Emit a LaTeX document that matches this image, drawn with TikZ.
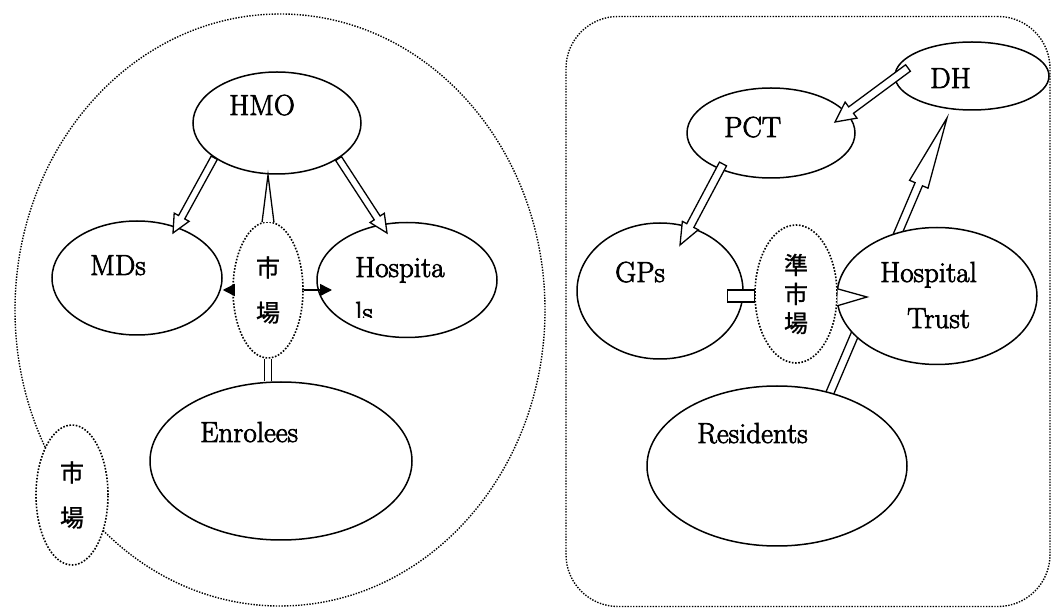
\documentclass[tikz,border=0pt]{standalone}
\usepackage{fontspec}
\newfontfamily\cjk{Noto Sans CJK JP}[FakeBold=1]
\newfontfamily\namefont{Latin Modern Roman}[FakeBold=2.5]
\usetikzlibrary{shapes.geometric,arrows.meta,calc}

% Hollow block arrow: #1 start, #2 tip, #3 shaft half width, #4 head length, #5 head half width
\newcommand{\hollowarrow}[5]{%
  \coordinate (ha-b) at ($(#2)!#4!(#1)$);
  \draw[hollow]
    ($(#1)!#3!90:(#2)$) -- ($(ha-b)!#3!90:(#2)$) -- ($(ha-b)!#5!90:(#2)$) -- (#2)
    -- ($(ha-b)!#5!-90:(#2)$) -- ($(ha-b)!#3!-90:(#2)$) -- ($(#1)!#3!-90:(#2)$) -- cycle;
}

\tikzset{
  actor/.style={ellipse, draw, line width=1.5pt, fill=white, inner sep=0pt},
  mkt/.style={ellipse, draw, line width=1.6pt, dash pattern=on 1.6pt off 1.6pt, fill=white,
    inner sep=0pt, align=center, font=\cjk\fontsize{24}{45}\selectfont},
  realm/.style={draw, line width=1.4pt, dash pattern=on 1.4pt off 1.4pt, inner sep=0pt},
  hollow/.style={draw, fill=white, line width=1.3pt, line join=miter},
  lbl/.style={font=\namefont\fontsize{29}{35}\selectfont, inner sep=0pt, anchor=base west},
  tail/.style={draw, fill=white, line width=1.3pt},
  pointer/.style={line width=1.5pt, -{Triangle[length=12pt,width=12pt]}},
}

\begin{document}
\begin{tikzpicture}[x=1pt,y=-1pt]
\useasboundingbox (0,0) rectangle (1053,609);

% market (left) and quasi-market (right) boundaries
\node[realm, ellipse, minimum width=530pt, minimum height=592pt] (usmkt) at (280,310) {};
\node[realm, rounded corners=52pt, minimum width=484pt, minimum height=590pt] (ukqm) at (808,311.5) {};

% Residents -> DH, passing behind Hospital Trust
\coordinate (res-top) at (829,395);
\coordinate (dh-tip) at (947,118);
\hollowarrow{res-top}{dh-tip}{4pt}{72pt}{10pt}

% actors
\node[actor, minimum width=168pt, minimum height=102pt] (hmo) at (277,123) {};
\node[actor, minimum width=170pt, minimum height=114pt] (mds) at (137,278) {};
\node[actor, minimum width=180pt, minimum height=115pt] (hosp) at (407,280) {};
\node[actor, minimum width=262pt, minimum height=158pt] (enrol) at (281,461) {};
\node[actor, minimum width=154pt, minimum height=68pt] (dh) at (972,76) {};
\node[actor, minimum width=168pt, minimum height=90pt] (pct) at (771,133) {};
\node[actor, minimum width=166pt, minimum height=136pt] (gps) at (660,291) {};
\node[actor, minimum width=200pt, minimum height=137pt] (trust) at (937,296) {};
\node[actor, minimum width=260pt, minimum height=160pt] (resid) at (777,466) {};

% market bubbles
\node[mkt, minimum width=70pt, minimum height=136pt] (mkt1) at (268,290) {市\\場};
\node[mkt, minimum width=82pt, minimum height=138pt, font=\cjk\fontsize{24}{29}\selectfont] (qmkt) at (796,294) {準\\市\\場};
\node[mkt, minimum width=72pt, minimum height=140pt] (mkt2) at (72,495) {市\\場};

% actor names
\node[lbl] (hmo-t) at (229,115) {HMO};
\node[lbl] (mds-t) at (90,275) {MDs};
\node[lbl] (hosp-t) at (355,277) {Hospita};
\begin{scope}
  \clip (340,290) rectangle (420,318);
  \node[lbl] (hosp-t2) at (355,322) {ls};
\end{scope}
\node[lbl] (enrol-t) at (200,442) {Enrolees};
\node[lbl] (dh-t) at (930,88) {DH};
\node[lbl] (pct-t) at (724,137) {PCT};
\node[lbl] (gps-t) at (615,282) {GPs};
\node[lbl] (trust-t1) at (880,282) {Hospital};
\node[lbl] (trust-t2) at (907,328) {Trust};
\node[lbl] (resid-t) at (697,443) {Residents};

% block arrows
\coordinate (mds-tip) at (173,233);
\coordinate (hosp-tip) at (387,233);
\hollowarrow{hmo.209}{mds-tip}{3.5pt}{18pt}{8.5pt}
\hollowarrow{hmo.330}{hosp-tip}{3.5pt}{18pt}{8.5pt}
\coordinate (dh-start) at (908,68);
\coordinate (pct-tip) at (835,122);
\hollowarrow{dh-start}{pct-tip}{4pt}{20pt}{10pt}
\coordinate (pct-start) at (723,164);
\coordinate (gps-tip) at (680,245);
\hollowarrow{pct-start}{gps-tip}{4pt}{22pt}{9pt}

% market links
\draw[pointer] (mkt1.west) -- (mkt1.west -| mds.east);
\coordinate (hosp-in) at (332,290);
\draw[pointer] (mkt1.east) -- (hosp-in);
\draw[line width=1.3pt, double distance=5.5pt] (mkt1.south) -- (mkt1.south |- enrol.north);
\coordinate (hmo-tail) at (268,175);
\draw[tail] (mkt1.95) -- (hmo-tail) -- (mkt1.85);

% quasi-market links
\coordinate (trust-tail) at (867,297);
\fill[white] (qmkt.7) -- (trust-tail) -- (qmkt.-16) -- cycle;
\draw[line width=1.3pt] (qmkt.7) -- (trust-tail) -- (qmkt.-16);
\draw[tail] ($(qmkt.west)+(-27,-4)$) rectangle ($(qmkt.west)+(0,8)$);
\end{tikzpicture}
\end{document}
